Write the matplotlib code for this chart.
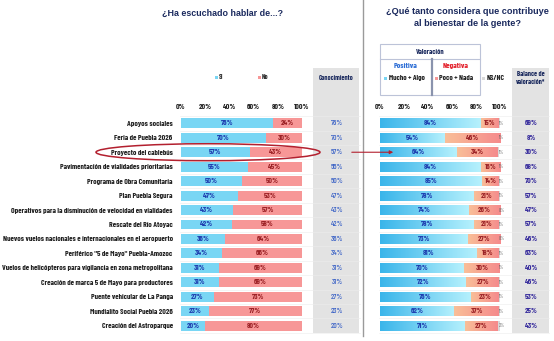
import numpy as np
import matplotlib
matplotlib.use("Agg")
import matplotlib.pyplot as plt
from matplotlib.patches import Rectangle, Ellipse
from matplotlib.colors import LinearSegmentedColormap

plt.rcParams['font.family'] = ['Barlow Condensed', 'DejaVu Sans']
TITLE_FONT = ['Liberation Sans', 'DejaVu Sans']

programas = [
    "Apoyos sociales",
    "Feria de Puebla 2026",
    "Proyecto del cablebús",
    "Pavimentación de vialidades prioritarias",
    "Programa de Obra Comunitaria",
    "Plan Puebla Segura",
    "Operativos para la disminución de velocidad en vialidades",
    "Rescate del Río Atoyac",
    "Nuevos vuelos nacionales e internacionales en el aeropuerto",
    "Periférico \"5 de Mayo\" Puebla-Amozoc",
    "Vuelos de helicópteros para vigilancia en zona metropolitana",
    "Creación de marca 5 de Mayo para productores",
    "Puente vehicular de La Panga",
    "Mundialito Social Puebla 2026",
    "Creación del Astroparque",
]
si = [76, 70, 57, 55, 50, 47, 43, 42, 36, 34, 31, 31, 27, 23, 20]
no = [24, 30, 43, 45, 50, 53, 57, 58, 64, 66, 69, 69, 73, 77, 80]
conocimiento = [76, 70, 57, 55, 50, 47, 43, 42, 36, 34, 31, 31, 27, 23, 20]
positiva = [84, 54, 64, 84, 85, 78, 74, 78, 73, 81, 70, 72, 76, 62, 71]
negativa = [15, 46, 34, 16, 14, 21, 26, 21, 27, 18, 30, 27, 23, 37, 27]
nsnc = [1, 1, 1, 1, 1, 1, 0, 1, 0, 1, 1, 1, 1, 1, 2]
balance = [69, 8, 30, 68, 70, 57, 47, 57, 46, 63, 40, 46, 53, 25, 43]
ticks = [0, 20, 40, 60, 80, 100]
destacado = 2  # row circled and linked to its valoración

W, H = 554, 341
NAVY = "#1b2a5e"
C_SI = "#79d6f4"
C_NO = "#f79797"
C_NS = "#d9d9d9"
T_SI = "#1f3fb0"
T_NO = "#9c2226"
cm_pos = LinearSegmentedColormap.from_list("pos", ["#3ab5ea", "#b6f1fd"])
cm_neg = LinearSegmentedColormap.from_list("neg", ["#f9bf98", "#f58a8c"])

n = len(programas)
row_top, row_bot = 116.1, 332.9
row_h = (row_bot - row_top) / n

fig = plt.figure(figsize=(W / 100, H / 100), dpi=100)


def px_axes(x0, x1, y0, y1, **kw):
    return fig.add_axes([x0 / W, 1 - y1 / H, (x1 - x0) / W, (y1 - y0) / H], **kw)


# background layer in pixel units
bg = fig.add_axes([0, 0, 1, 1], zorder=0)
bg.set_xlim(0, W)
bg.set_ylim(H, 0)
bg.axis("off")

for x0, x1 in [(313, 359), (512, 549)]:
    bg.add_patch(Rectangle((x0, 68), x1 - x0, row_bot - 68, color="#e3e3e3", lw=0))
bg.plot([363, 363], [0, 336], color="#9a9a9a", lw=1)
for i in range(n + 1):
    yy = row_top + i * row_h
    bg.plot([180, 360], [yy, yy], color="#ececec", lw=0.4)
    bg.plot([379, 549], [yy, yy], color="#ececec", lw=0.4)

bg.text(222, 13, "¿Ha escuchado hablar de...?", ha="center", va="center",
        fontsize=6.4, fontweight="bold", color=NAVY, family=TITLE_FONT)
bg.text(467, 12, "¿Qué tanto considera que contribuye", ha="center", va="center",
        fontsize=6.6, fontweight="bold", color=NAVY, family=TITLE_FONT)
bg.text(467, 24, "al bienestar de la gente?", ha="center", va="center",
        fontsize=6.6, fontweight="bold", color=NAVY, family=TITLE_FONT)

# legend of the left panel
bg.add_patch(Rectangle((214.5, 75.5), 3, 3, color=C_SI, lw=0))
bg.text(219, 77, "Sí", va="center", fontsize=5, fontweight="bold", color="#333333")
bg.add_patch(Rectangle((257.5, 75.5), 3, 3, color=C_NO, lw=0))
bg.text(262, 77, "No", va="center", fontsize=5, fontweight="bold", color="#333333")
bg.text(336, 78, "Conocimiento", ha="center", va="center", fontsize=5,
        fontweight="bold", color=NAVY)

# valoración legend box
bg.add_patch(Rectangle((380, 44), 100, 51, fill=False, ec="#bcc3d8", lw=0.8))
bg.plot([380, 480], [59, 59], color="#bcc3d8", lw=0.8)
bg.plot([432, 432], [59, 95], color="#8a93ad", lw=1.6)
bg.text(430, 52, "Valoración", ha="center", va="center", fontsize=5.3,
        fontweight="bold", color=NAVY)
bg.text(406, 66, "Positiva", ha="center", va="center", fontsize=5.8,
        fontweight="bold", color="#2e6fd6")
bg.text(456, 66, "Negativa", ha="center", va="center", fontsize=5.8,
        fontweight="bold", color="#e3202b")
bg.add_patch(Rectangle((384, 76.5), 3, 3, color=C_SI, lw=0))
bg.text(389, 78, "Mucho + Algo", va="center", fontsize=5.5, fontweight="bold", color="#222222")
bg.add_patch(Rectangle((434.5, 76.5), 3, 3, color=C_NO, lw=0))
bg.text(439, 78, "Poco + Nada", va="center", fontsize=5.5, fontweight="bold", color="#222222")
bg.add_patch(Rectangle((482, 76.5), 3, 3, color=C_NS, lw=0))
bg.text(487, 78, "NS/NC", va="center", fontsize=5.5, fontweight="bold", color="#222222")
bg.text(531, 78, "Balance de\nvaloración*", ha="center", va="center", fontsize=5,
        fontweight="bold", color=NAVY, linespacing=1.4)

y = np.arange(n)
tick_labels = [f"{t}%" for t in ticks]

# left panel: ha escuchado hablar
axl = px_axes(181, 302, row_top, row_bot, zorder=2)
axl.patch.set_alpha(0)
axl.barh(y, si, height=0.68, color=C_SI, lw=0)
axl.barh(y, no, left=si, height=0.68, color=C_NO, lw=0)
for i in range(n):
    axl.text(si[i] / 2, i, f"{si[i]}%", ha="center", va="center", fontsize=5.6,
             fontweight="bold", color=T_SI)
    axl.text(si[i] + no[i] / 2, i, f"{no[i]}%", ha="center", va="center", fontsize=5.6,
             fontweight="bold", color=T_NO)
    axl.text(129, i, f"{conocimiento[i]}%", ha="center", va="center", fontsize=5.6,
             fontweight="medium", color="#3c63c6", clip_on=False)

# right panel: valoración
axr = px_axes(380, 500, row_top, row_bot, zorder=2)
axr.patch.set_alpha(0)
pos_bars = axr.barh(y, positiva, height=0.68, color="none", lw=0)
neg_bars = axr.barh(y, negativa, left=positiva, height=0.68, color="none", lw=0)
axr.barh(y, nsnc, left=np.add(positiva, negativa), height=0.68, color=C_NS, lw=0)
grad = np.linspace(0, 1, 256).reshape(1, -1)
for bars, cmap in [(pos_bars, cm_pos), (neg_bars, cm_neg)]:
    for b in bars:
        x0, y0 = b.get_x(), b.get_y()
        im = axr.imshow(grad, cmap=cmap, aspect="auto", interpolation="bicubic",
                        extent=[x0, x0 + b.get_width(), y0 + b.get_height(), y0])
        im.set_clip_path(b)
for i in range(n):
    axr.text(positiva[i] / 2, i, f"{positiva[i]}%", ha="center", va="center",
             fontsize=5.6, fontweight="bold", color=T_SI)
    axr.text(positiva[i] + negativa[i] / 2, i, f"{negativa[i]}%", ha="center",
             va="center", fontsize=5.6, fontweight="bold", color=T_NO)
    axr.text(101.5, i, f"{nsnc[i]}%", ha="center", va="center", fontsize=3.8,
             color="#666666", clip_on=False)
    axr.text(126, i, f"{balance[i]}%", ha="center", va="center", fontsize=5.6,
             fontweight="bold", color="#3a2f9e", clip_on=False)

for ax in (axl, axr):
    ax.set_xlim(0, 100)
    ax.set_ylim(n - 0.5, -0.5)
    ax.xaxis.tick_top()
    ax.set_xticks(ticks)
    ax.set_xticklabels(tick_labels, fontsize=5.6, fontweight="bold", color="#222222")
    ax.tick_params(axis="x", length=0, pad=4.5)
    for s in ax.spines.values():
        s.set_visible(False)

axl.set_yticks(y)
axl.set_yticklabels(programas, fontsize=5.6, fontweight="bold", color="#222222")
axl.tick_params(axis="y", length=0, pad=6)
axr.set_yticks([])

# highlight of one programme and its link to the right panel
fg = fig.add_axes([0, 0, 1, 1], zorder=5)
fg.set_xlim(0, W)
fg.set_ylim(H, 0)
fg.axis("off")
fg.patch.set_alpha(0)
yc = row_top + (destacado + 0.5) * row_h
fg.add_patch(Ellipse((208, yc), 224, 17, fill=False, ec="#b3202f", lw=1.1))
fg.annotate("", xy=(396, yc), xytext=(349, yc),
            arrowprops=dict(arrowstyle="-|>", color="#b3202f", lw=0.8,
                            mutation_scale=5))

fig.savefig("out.png", dpi=100)
